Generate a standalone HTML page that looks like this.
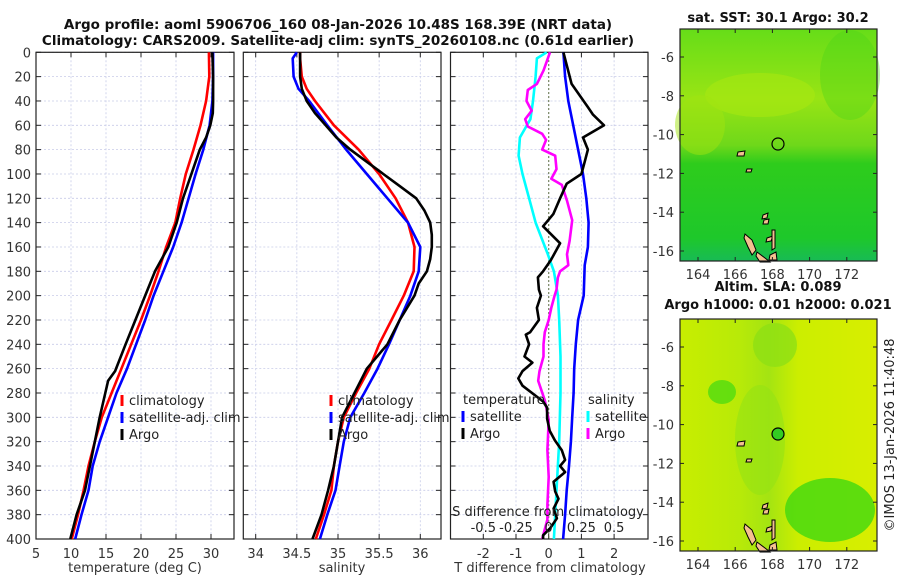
<!DOCTYPE html>
<html><head><meta charset="utf-8"><style>
html,body{margin:0;padding:0;background:#fff}
svg{display:block;font-family:"DejaVu Sans","Liberation Sans",sans-serif}
</style></head><body>
<svg id="fig" width="900" height="580" viewBox="0 0 900 580" xmlns="http://www.w3.org/2000/svg">
<defs>
<linearGradient id="sstg" x1="0" y1="0" x2="0" y2="1">
<stop offset="0" stop-color="#66dd18"/><stop offset="0.3" stop-color="#99e414"/><stop offset="0.5" stop-color="#6fd81a"/><stop offset="0.58" stop-color="#2ecc1c"/><stop offset="0.9" stop-color="#1ec82a"/><stop offset="1" stop-color="#18bb55"/>
</linearGradient>
<linearGradient id="slag" x1="0" y1="0" x2="1" y2="0">
<stop offset="0" stop-color="#c8ee00"/><stop offset="0.3" stop-color="#b8ea08"/><stop offset="0.45" stop-color="#a4e412"/><stop offset="0.6" stop-color="#ccee00"/><stop offset="1" stop-color="#d8ee00"/>
</linearGradient>
</defs>
<g id="charts"></g>
</svg>
<script>
// ---- data (depth in m) ----
const tDepth = [0,20,40,60,80,100,120,140,160,180,200,220,240,260,280,300,320,340,360,380,400];
const tClim  = [29.7,29.76,29.3,28.5,27.5,26.4,25.6,24.9,23.6,22.5,21.3,20.0,18.6,17.2,15.8,14.4,13.4,12.5,11.8,11.0,10.1];
const tSat   = [30.3,30.3,30.2,29.8,28.9,27.8,26.8,25.8,24.6,23.2,21.8,20.6,19.3,18.0,16.5,15.3,14.1,13.1,12.5,11.5,10.6];
const argoTDepth = [0,20,40,50,60,70,80,100,120,140,160,180,200,220,240,262,270,280,300,320,340,360,380,400];
const argoT  = [30.2,30.3,30.3,30.25,29.9,29.3,28.4,27.2,26.0,25.1,23.9,22.0,20.6,19.2,17.8,16.3,15.3,14.9,14.1,13.4,12.7,12.0,10.8,9.9];

const sDepth = [0,5,20,30,40,60,80,100,120,140,160,180,200,220,240,260,280,300,320,340,360,380,400];
const sClim  = [34.54,34.54,34.56,34.62,34.72,34.95,35.25,35.5,35.7,35.85,35.93,35.92,35.8,35.65,35.5,35.38,35.22,35.07,35.0,34.95,34.92,34.83,34.73];
const sSat   = [34.5,34.45,34.46,34.52,34.65,34.87,35.1,35.35,35.6,35.85,36.0,35.98,35.88,35.75,35.62,35.48,35.32,35.15,35.07,35.02,34.97,34.87,34.78];
const argoSDepth = [0,20,30,40,50,60,70,80,90,100,110,120,130,140,150,160,170,180,190,200,220,240,260,280,300,320,340,360,380,400];
const argoS  = [34.54,34.54,34.56,34.62,34.72,34.85,34.98,35.15,35.35,35.55,35.75,35.95,36.05,36.12,36.14,36.14,36.12,36.08,35.98,35.93,35.75,35.6,35.35,35.2,35.05,35.0,34.95,34.88,34.8,34.69];

const dTDepthSat = [0,20,40,60,80,100,120,140,160,175,200,220,240,260,280,300,320,340,360,380,400];
const dTSat = [0.45,0.5,0.6,0.75,0.9,1.05,1.15,1.22,1.2,1.1,1.07,0.9,0.83,0.78,0.76,0.72,0.68,0.62,0.55,0.5,0.44];
const dTDepthArgo = [0,26,45,51,60,70,80,90,100,108,120,133,143,157,171,180,185,195,200,210,220,230,232,240,250,255,262,268,274,287,292,301,311,319,327,335,340,345,353,361,367,375,383,391,397,400];
const dTArgo = [0.45,0.7,1.2,1.35,1.69,1.05,1.2,1.1,1.0,0.55,0.35,0.14,-0.17,0.35,0.06,-0.17,-0.33,-0.3,-0.24,-0.36,-0.3,-0.57,-0.7,-0.6,-0.74,-0.5,-0.8,-0.93,-0.8,-0.17,-0.05,-0.05,0.03,0.19,0.4,0.5,0.35,0.5,0.15,0.2,0.3,0.15,0.25,0.05,-0.17,-0.17];
const dSDepthSat = [0,5,20,40,55,70,85,100,120,140,165,180,200,220,250,280,320,360,400];
const dSSat = [-0.015,-0.09,-0.1,-0.12,-0.14,-0.22,-0.23,-0.2,-0.15,-0.1,-0.01,0.04,0.07,0.08,0.09,0.09,0.08,0.06,0.04];
const dSDepthArgo = [0,15,26,31,40,48,55,61,67,72,80,85,96,104,109,122,138,155,166,175,180,185,195,200,210,220,230,240,250,262,270,286,302,327,349,372,384,396,400];
const dSArgo = [0.01,-0.04,-0.09,-0.16,-0.17,-0.13,-0.18,-0.16,-0.05,-0.02,-0.05,0.05,0.06,0.02,0.1,0.14,0.18,0.16,0.14,0.15,0.087,0.07,0.06,0.045,0.02,0.0,-0.03,-0.04,-0.04,-0.07,-0.08,-0.03,0.0,-0.01,0.0,-0.01,-0.01,-0.04,-0.05];

const depthTicks = [0,20,40,60,80,100,120,140,160,180,200,220,240,260,280,300,320,340,360,380,400];
const tTicks = [5,10,15,20,25,30];
const sTicks = [34,34.5,35,35.5,36];
const dtTicks = [-2,-1,0,1,2];
const dsTicks = [-0.5,-0.25,0,0.25,0.5];
const lonTicks = [164,166,168,170,172];
const latTicks = [-6,-8,-10,-12,-14,-16];

const NS="http://www.w3.org/2000/svg";
const root=document.getElementById('charts');
function el(tag,attrs,parent,text){const e=document.createElementNS(NS,tag);for(const k in attrs)e.setAttribute(k,attrs[k]);if(text!==undefined)e.textContent=text;(parent||root).appendChild(e);return e;}

const TOP=52.3, BOT=539;
const yD=d=>TOP+(BOT-TOP)*d/400;
const xT=v=>36+(v-5)*7.0;
const xS=v=>255.7+(v-34)*82.3;
const xDT=v=>548.7+v*32.7;
const xDS=v=>548.7+v*130.8;

function panel(x0,x1,xs,ticks,fmt,name,ylabels){
  const g=el('g',{});
  
  
  depthTicks.forEach(d=>{
    const l=el('line',{x1:x0,x2:x1,y1:yD(d),y2:yD(d),stroke:'#c8cce8','stroke-width':0.8,'stroke-dasharray':'2,2'},g);
    
    
    el('line',{x1:x0,x2:x0+5,y1:yD(d),y2:yD(d),stroke:'#222'},g);
    el('line',{x1:x1-5,x2:x1,y1:yD(d),y2:yD(d),stroke:'#222'},g);
    if(ylabels){const t=el('text',{x:x0-5,y:yD(d)+5,'text-anchor':'end','font-size':13,fill:'#333'},g,String(d));
      
      }
  });
  ticks.forEach(v=>{
    const x=xs(v);
    el('line',{x1:x,x2:x,y1:TOP,y2:BOT,stroke:'#c8cce8','stroke-width':0.8,'stroke-dasharray':'2,2'},g);
    el('line',{x1:x,x2:x,y1:BOT-5,y2:BOT,stroke:'#222'},g);
    el('line',{x1:x,x2:x,y1:TOP,y2:TOP+5,stroke:'#222'},g);
    const t=el('text',{x:x,y:BOT+19,'text-anchor':'middle','font-size':13,fill:'#333'},g,fmt(v));
    
    
  });
  el('rect',{x:x0,y:TOP,width:x1-x0,height:BOT-TOP,fill:'none',stroke:'#222','stroke-width':1.2},g);
  return g;
}
function line(xs,vals,depths,color,name,g,w){
  const p=el('polyline',{points:vals.map((v,i)=>xs(v).toFixed(1)+','+yD(depths[i]).toFixed(1)).join(' '),fill:'none',stroke:color,'stroke-width':w||2.6,'stroke-linejoin':'round'},g);
  
  
}
function legend(g,x,y,items){
  items.forEach((it,i)=>{
    const yy=y+i*17;
    if(it.c){el('line',{x1:x,x2:x,y1:yy-10,y2:yy+1,stroke:it.c,'stroke-width':3},g);}
    const t=el('text',{x:x+(it.c?7:0),y:yy,'font-size':13,fill:'#222'},g,it.t);
    
    
  });
}

let t1=el('text',{x:338,y:29,'text-anchor':'middle','font-size':13.5,'font-weight':'bold',fill:'#111'},root,'Argo profile: aoml 5906706_160 08-Jan-2026 10.48S 168.39E (NRT data)');


let t2=el('text',{x:338,y:45,'text-anchor':'middle','font-size':13.5,'font-weight':'bold',fill:'#111'},root,'Climatology: CARS2009. Satellite-adj clim: synTS_20260108.nc (0.61d earlier)');



const g1=panel(36,234,xT,tTicks,String,'temperature-panel',true);
line(xT,tClim,tDepth,'#ff0000','temperature-climatology-line',g1);
line(xT,tSat,tDepth,'#0000ff','temperature-satellite-line',g1);
line(xT,argoT,argoTDepth,'#000000','temperature-argo-line',g1);
legend(g1,122,405,[{c:'#ff0000',t:'climatology'},{c:'#0000ff',t:'satellite-adj. clim'},{c:'#000',t:'Argo'}]);
let xl1=el('text',{x:135,y:572,'text-anchor':'middle','font-size':13,fill:'#333'},g1,'temperature (deg C)');



const g2=panel(243.3,441,xS,sTicks,String,'salinity-panel',false);
line(xS,sClim,sDepth,'#ff0000','salinity-climatology-line',g2);
line(xS,sSat,sDepth,'#0000ff','salinity-satellite-line',g2);
line(xS,argoS,argoSDepth,'#000000','salinity-argo-line',g2);
legend(g2,331,405,[{c:'#ff0000',t:'climatology'},{c:'#0000ff',t:'satellite-adj. clim'},{c:'#000',t:'Argo'}]);
let xl2=el('text',{x:342,y:572,'text-anchor':'middle','font-size':13,fill:'#333'},g2,'salinity');



const g3=panel(450.5,648,xDT,dtTicks,String,'difference-panel',false);
el('line',{x1:xDT(0),x2:xDT(0),y1:TOP,y2:BOT,stroke:'#556633','stroke-width':1.2,'stroke-dasharray':'1.5,2.5'},g3);
line(xDS,dSSat,dSDepthSat,'#00ffff','salinity-diff-satellite-line',g3);
line(xDS,dSArgo,dSDepthArgo,'#ff00ff','salinity-diff-argo-line',g3);
line(xDT,dTSat,dTDepthSat,'#0000ff','temperature-diff-satellite-line',g3);
line(xDT,dTArgo,dTDepthArgo,'#000000','temperature-diff-argo-line',g3);
legend(g3,463,404,[{t:'temperature'},{c:'#0000ff',t:'satellite'},{c:'#000',t:'Argo'}]);
legend(g3,588,404,[{t:'salinity'},{c:'#00ffff',t:'satellite'},{c:'#ff00ff',t:'Argo'}]);
let sdl=el('text',{x:548,y:516,'text-anchor':'middle','font-size':13,fill:'#222'},g3,'S difference from climatology');


dsTicks.forEach(v=>{const t=el('text',{x:xDS(v),y:532,'text-anchor':'middle','font-size':13,fill:'#222'},g3,String(v));
  
  });
let xl3=el('text',{x:550,y:572,'text-anchor':'middle','font-size':13,fill:'#333'},g3,'T difference from climatology');



const MX0=680, MX1=877;
const xLon=v=>698+(v-164)*18.6;
function map(y0,y1,latY,fill,title1,title2,name,circleFill){
  const g=el('g',{});
  
  
  el('rect',{x:MX0,y:y0,width:MX1-MX0,height:y1-y0,fill:fill},g);
  if(name==='sst-map'){
    el('ellipse',{cx:760,cy:95,rx:55,ry:22,fill:'#a8e810',opacity:0.6},g);
    el('ellipse',{cx:700,cy:125,rx:25,ry:30,fill:'#a0e410',opacity:0.5},g);
    el('ellipse',{cx:850,cy:75,rx:30,ry:45,fill:'#4ed41a',opacity:0.4},g);
  } else {
    el('ellipse',{cx:722,cy:392,rx:14,ry:12,fill:'#50dc10',opacity:0.8},g);
    el('ellipse',{cx:830,cy:510,rx:45,ry:32,fill:'#40d810',opacity:0.8},g);
    el('ellipse',{cx:775,cy:345,rx:22,ry:22,fill:'#8ee014',opacity:0.8},g);
    el('ellipse',{cx:760,cy:440,rx:25,ry:55,fill:'#94e214',opacity:0.6},g);
  }
  [['745,234 752,240 756,250 752,255 748,247 744,238'],['757,252 765,258 770,262 760,262 756,256'],['770,255 776,252 777,260 769,260'],['767,238 773,236 771,241 766,242'],['763,215 768,213 767,218 762,219'],['764,220 769,219 768,224 763,224'],['738,152 745,151 744,156 737,156'],['747,169 752,169 751,172 746,172'],['772,230 775,230 775,248 772,250']].forEach(p=>{
    const pp=el('polygon',{points:p[0],fill:'#f4c090',stroke:'#000','stroke-width':1},g);
    pp.setAttribute('transform','translate(0,'+(y0-29)+')');
  });
  el('circle',{cx:778,cy:144+(y0-29),r:6,fill:circleFill,stroke:'#000','stroke-width':1.2},g);
  el('rect',{x:MX0,y:y0,width:MX1-MX0,height:y1-y0,fill:'none',stroke:'#222','stroke-width':1.2},g);
  lonTicks.forEach(v=>{const x=xLon(v);
    el('line',{x1:x,x2:x,y1:y1-4,y2:y1,stroke:'#222'},g);
    el('line',{x1:x,x2:x,y1:y0,y2:y0+4,stroke:'#222'},g);
    const t=el('text',{x:x,y:y1+18,'text-anchor':'middle','font-size':13,fill:'#333'},g,String(v));
    
    });
  latTicks.forEach(v=>{const y=latY(v);
    el('line',{x1:MX0,x2:MX0+4,y1:y,y2:y,stroke:'#222'},g);
    el('line',{x1:MX1-4,x2:MX1,y1:y,y2:y,stroke:'#222'},g);
    const t=el('text',{x:MX0-6,y:y+5,'text-anchor':'end','font-size':13,fill:'#333'},g,String(v));
    
    });
  const a=el('text',{x:778,y:title2?y0-28:y0-7,'text-anchor':'middle','font-size':13,'font-weight':'bold',fill:'#111'},g,title1);
  
  
  if(title2){const b=el('text',{x:778,y:y0-10,'text-anchor':'middle','font-size':13,'font-weight':'bold',fill:'#111'},g,title2);
    
    }
}
map(29,261,v=>57+(-6-v)*19.4,'url(#sstg)','sat. SST: 30.1 Argo: 30.2',null,'sst-map','none');
map(319,551,v=>347+(-6-v)*19.4,'url(#slag)','Altim. SLA: 0.089','Argo h1000: 0.01 h2000: 0.021','sla-map','#33cc22');
let cp=el('text',{x:0,y:0,'text-anchor':'middle','font-size':13,fill:'#222',transform:'translate(894,435) rotate(-90)'},root,'©IMOS 13-Jan-2026 11:40:48');


</script>
</body></html>
